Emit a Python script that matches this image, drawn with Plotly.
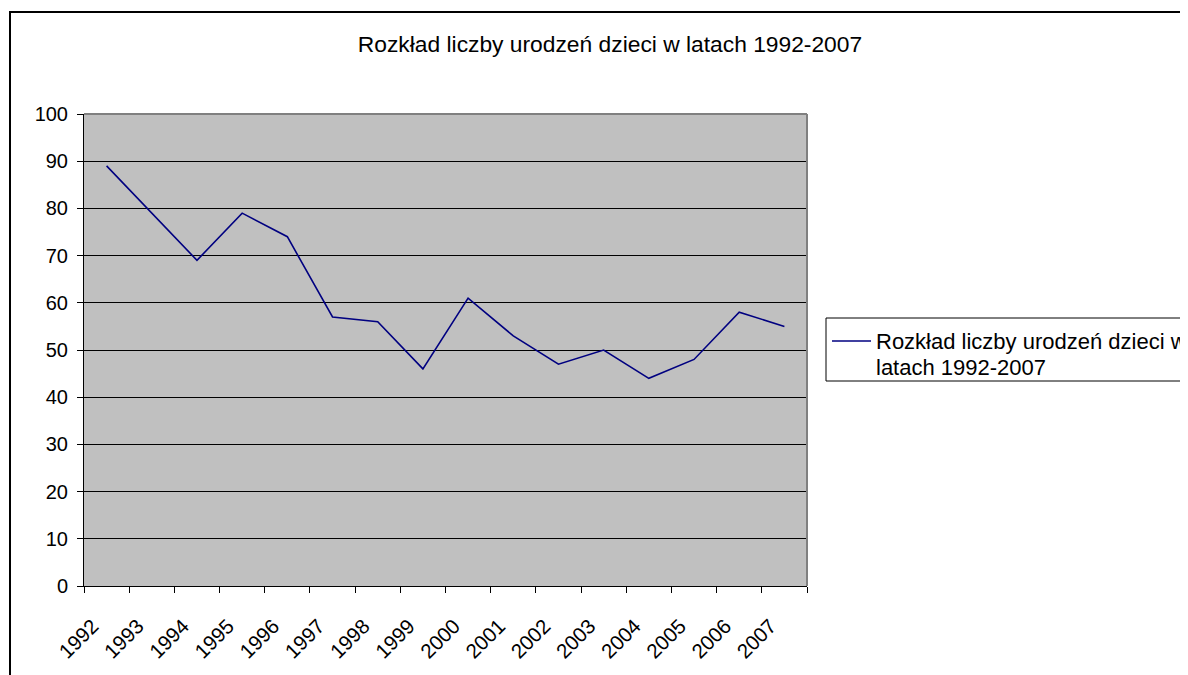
import plotly.graph_objects as go

years = ["1992", "1993", "1994", "1995", "1996", "1997", "1998", "1999",
         "2000", "2001", "2002", "2003", "2004", "2005", "2006", "2007"]
births = [89, 79, 69, 79, 74, 57, 56, 46, 61, 53, 47, 50, 44, 48, 58, 55]
series_name = "Rozkład liczby urodzeń dzieci w latach 1992-2007"
title_text = "Rozkład liczby urodzeń dzieci w latach 1992-2007"
legend_lines = ["Rozkład liczby urodzeń dzieci w", "latach 1992-2007"]

OFF = 8  # page body margin
W, H = 1188, 675
PL, PR, PT, PB = 84, 807, 114, 586  # plot area in screen px
ML, MT = PL - OFF, PT - OFF
PW, PH = PR - PL, PB - PT
MR, MB = W - ML - PW, H - MT - PH
FONT = "Liberation Sans, Arial, sans-serif"


def px_x(p):
    return (p - PL) / PW


def px_y(p):
    return (PB - p) / PH


fig = go.Figure()
fig.add_trace(go.Scatter(
    x=years, y=births, mode="lines", name=series_name,
    line=dict(color="#000080", width=1.6), showlegend=False,
))

shapes = [
    # outer chart border (top & left visible, rest clipped)
    dict(type="line", xref="paper", yref="paper", x0=px_x(9), x1=px_x(1250),
         y0=px_y(12), y1=px_y(12), line=dict(color="#000000", width=2)),
    dict(type="line", xref="paper", yref="paper", x0=px_x(10), x1=px_x(10),
         y0=px_y(11), y1=px_y(720), line=dict(color="#000000", width=2)),
    # plot area border top & right (gray)
    dict(type="line", xref="paper", yref="paper", x0=0, x1=1, y0=1, y1=1,
         line=dict(color="#808080", width=2)),
    dict(type="line", xref="paper", yref="paper", x0=1, x1=1, y0=0, y1=1,
         line=dict(color="#808080", width=2)),
    # legend box
    dict(type="rect", xref="paper", yref="paper", x0=px_x(826), x1=px_x(1260),
         y0=px_y(381), y1=px_y(318), line=dict(color="#000000", width=1),
         fillcolor="rgba(0,0,0,0)"),
    # legend sample line
    dict(type="line", xref="paper", yref="paper", x0=px_x(832), x1=px_x(871),
         y0=px_y(341), y1=px_y(341), line=dict(color="#000080", width=1.6)),
]

annotations = [
    dict(text=legend_lines[0], xref="paper", yref="paper", x=px_x(874), y=px_y(341),
         xanchor="left", yanchor="middle", align="left", showarrow=False,
         font=dict(family=FONT, size=22, color="#000000")),
    dict(text=legend_lines[1], xref="paper", yref="paper", x=px_x(874), y=px_y(367),
         xanchor="left", yanchor="middle", align="left", showarrow=False,
         font=dict(family=FONT, size=22, color="#000000")),
]

fig.update_layout(
    width=W, height=H,
    margin=dict(l=ML, r=MR, t=MT, b=MB, autoexpand=False),
    paper_bgcolor="#FFFFFF",
    plot_bgcolor="#C0C0C0",
    font=dict(family=FONT, size=20, color="#000000"),
    title=dict(text=title_text, x=(610 - OFF) / W, xref="container", xanchor="center",
               y=1 - (44 - OFF) / H, yref="container", yanchor="middle",
               font=dict(family=FONT, size=22.8, color="#000000")),
    showlegend=False,
    shapes=shapes,
    annotations=annotations,
    xaxis=dict(
        type="category", range=[-0.5, 15.5], tickson="boundaries",
        ticks="outside", ticklen=6, tickcolor="#000000", tickwidth=1,
        tickangle=-45, showgrid=False, zeroline=False,
        showline=True, linecolor="#000000", linewidth=1,
        ticklabelstandoff=19, ticklabelshift=-14,
        tickfont=dict(family=FONT, size=20.5, color="#000000"),
    ),
    yaxis=dict(
        range=[0, 100], dtick=10, tick0=0,
        ticks="outside", ticklen=6, tickcolor="#000000", tickwidth=1,
        showgrid=True, gridcolor="#000000", gridwidth=1,
        zeroline=False, showline=True, linecolor="#000000", linewidth=1,
        ticklabelstandoff=5,
        tickfont=dict(family=FONT, size=20, color="#000000"),
    ),
)

fig.write_html("out.html")
